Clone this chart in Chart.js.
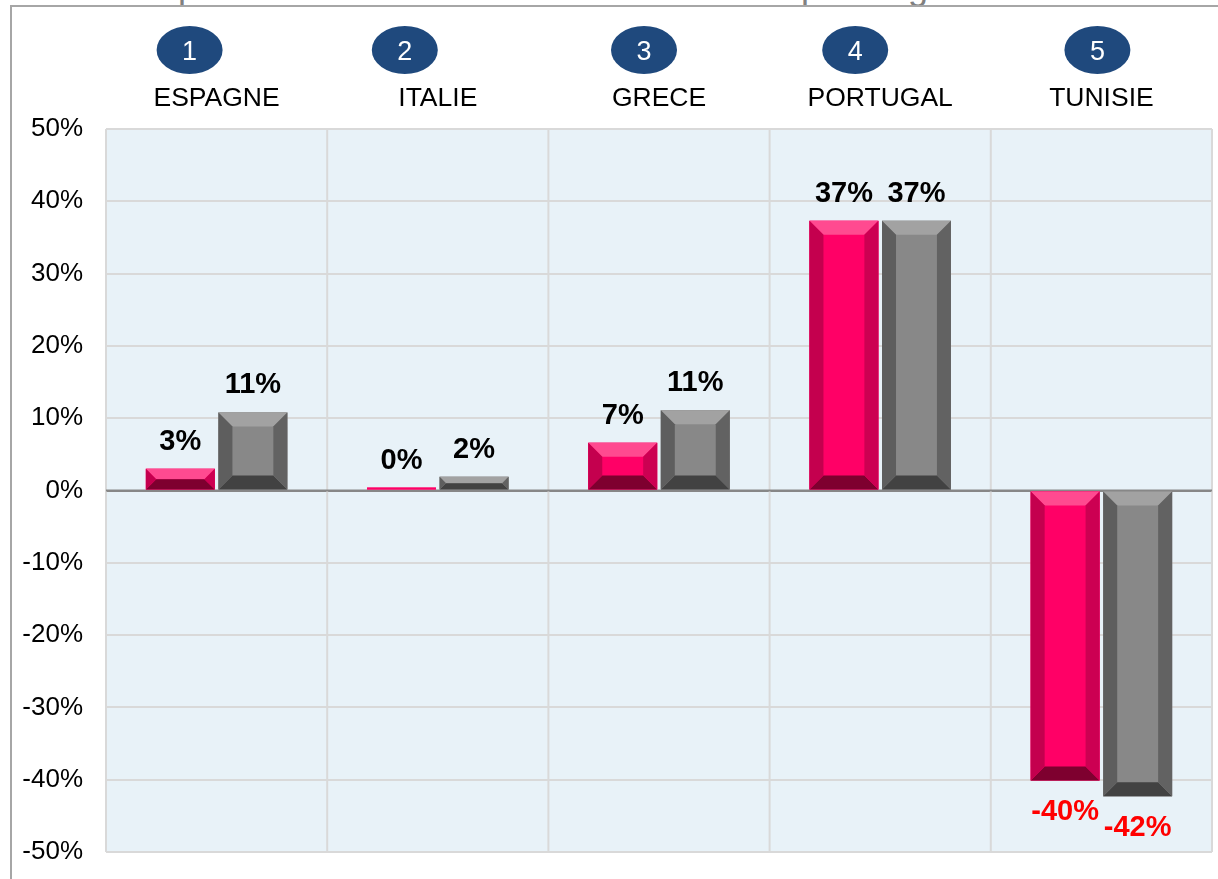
<!DOCTYPE html>
<html>
<head>
<meta charset="utf-8">
<script src="https://cdn.jsdelivr.net/npm/chart.js@4.4.1/dist/chart.umd.min.js"></script>
<style>
  html, body { margin: 0; padding: 0; background: #fff; }
  #wrap { position: relative; width: 1218px; height: 879px; overflow: hidden; }
  #frameTop { position: absolute; left: 11px; top: 5px; width: 1207px; height: 0; border-top: 2px solid #A6A6A6; }
  #frameLeft { position: absolute; left: 10px; top: 5px; width: 0; height: 874px; border-left: 2px solid #A6A6A6; }
  .clip { position: absolute; top: -31px; font-family: "Liberation Sans", Arial, sans-serif; font-size: 36px; color: #808080; line-height: 36px; }
  canvas { position: absolute; left: 0; top: 0; }
</style>
</head>
<body>
<div id="wrap">
  <span class="clip" style="left:178px">p</span>
  <span class="clip" style="left:801px">p</span>
  <span class="clip" style="left:908px">g</span>
  <div id="frameTop"></div>
  <div id="frameLeft"></div>
  <canvas id="c" width="1218" height="879"></canvas>
</div>
<script>
// ---- data ----
const categories = ["ESPAGNE", "ITALIE", "GRECE", "PORTUGAL", "TUNISIE"];
const badgeNumbers = ["1", "2", "3", "4", "5"];
const seriesPink = [3.0, 0.4, 6.6, 37.3, -40.1];
const seriesGrey = [10.8, 1.9, 11.1, 37.3, -42.3];
const yTicks = [50, 40, 30, 20, 10, 0, -10, -20, -30, -40, -50];
// decoration: horizontal offset of the numbered badges from category centres
const badgeOffsets = [-27, -33, -15, -25, -4];

const FONT = '"Liberation Sans", Arial, sans-serif';

const bevelStyles = [
  { face: '#FF0066', top: '#FF4A90', bottom: '#7E002F', left: '#C4004E', right: '#CC0052' },
  { face: '#888888', top: '#A2A2A2', bottom: '#424242', left: '#5E5E5E', right: '#626262' }
];

const bgPlugin = {
  id: 'bg',
  beforeDraw(chart) {
    const { ctx, chartArea: a } = chart;
    ctx.save();
    ctx.fillStyle = '#E8F2F8';
    ctx.fillRect(a.left, a.top, a.right - a.left, a.bottom - a.top);
    ctx.restore();
  },
  beforeDatasetsDraw(chart) {
    const { ctx, chartArea: a } = chart;
    const xs = chart.scales.x;
    const half = (xs.right - xs.left) / categories.length / 2;
    ctx.save();
    ctx.strokeStyle = '#D9D9D9';
    ctx.lineWidth = 2;
    for (let i = 0; i <= categories.length; i++) {
      const x = i < categories.length ? xs.getPixelForValue(i) - half : xs.getPixelForValue(i - 1) + half;
      ctx.beginPath();
      ctx.moveTo(x, a.top);
      ctx.lineTo(x, a.bottom);
      ctx.stroke();
    }
    const y0 = chart.scales.y.getPixelForValue(0);
    ctx.strokeStyle = '#878787';
    ctx.beginPath();
    ctx.moveTo(a.left, y0);
    ctx.lineTo(a.right, y0);
    ctx.stroke();
    ctx.restore();
  }
};

const bevelPlugin = {
  id: 'bevel',
  afterDatasetsDraw(chart) {
    const ctx = chart.ctx;
    chart.data.datasets.forEach((ds, di) => {
      const st = bevelStyles[di];
      chart.getDatasetMeta(di).data.forEach((el) => {
        const p = el.getProps(['x', 'y', 'base', 'width'], true);
        const l = p.x - p.width / 2, r = p.x + p.width / 2;
        const t = Math.min(p.y, p.base), bt = Math.max(p.y, p.base);
        const h = bt - t, w = r - l;
        if (h < 4) {
          ctx.fillStyle = st.face; ctx.fillRect(l, t, w, h); return;
        }
        const b = Math.min(14, w / 2, h / 2);
        const poly = (pts, col) => {
          ctx.beginPath();
          ctx.moveTo(pts[0][0], pts[0][1]);
          for (let i = 1; i < pts.length; i++) ctx.lineTo(pts[i][0], pts[i][1]);
          ctx.closePath(); ctx.fillStyle = col; ctx.fill();
        };
        ctx.save();
        ctx.fillStyle = st.face; ctx.fillRect(l, t, w, h);
        poly([[l, t], [r, t], [r - b, t + b], [l + b, t + b]], st.top);
        poly([[l, bt], [r, bt], [r - b, bt - b], [l + b, bt - b]], st.bottom);
        poly([[l, t], [l + b, t + b], [l + b, bt - b], [l, bt]], st.left);
        poly([[r, t], [r - b, t + b], [r - b, bt - b], [r, bt]], st.right);
        ctx.restore();
      });
    });
  }
};

const labelPlugin = {
  id: 'vlabels',
  afterDatasetsDraw(chart) {
    const ctx = chart.ctx;
    ctx.save();
    ctx.font = 'bold 29px ' + FONT;
    ctx.textAlign = 'center';
    ctx.textBaseline = 'middle';
    chart.data.datasets.forEach((ds, di) => {
      chart.getDatasetMeta(di).data.forEach((el, i) => {
        const v = ds.data[i];
        const p = el.getProps(['x', 'y', 'base'], true);
        const txt = Math.round(v) + '%';
        if (v >= 0) {
          ctx.fillStyle = '#000000';
          ctx.fillText(txt, p.x, p.y - 27);
        } else {
          ctx.fillStyle = '#FF0000';
          ctx.fillText(txt, p.x, p.y + 32);
        }
      });
    });
    ctx.restore();
  }
};

const headerPlugin = {
  id: 'header',
  afterDraw(chart) {
    const ctx = chart.ctx;
    const xs = chart.scales.x;
    ctx.save();
    categories.forEach((name, i) => {
      const cx = xs.getPixelForValue(i);
      const bx = cx + badgeOffsets[i];
      ctx.beginPath();
      ctx.ellipse(bx, 50, 33, 24, 0, 0, Math.PI * 2);
      ctx.fillStyle = '#1F497D';
      ctx.fill();
      ctx.fillStyle = '#FFFFFF';
      ctx.font = '27px "Liberation Sans Narrow", ' + FONT;
      ctx.textAlign = 'center';
      ctx.textBaseline = 'alphabetic';
      ctx.fillText(badgeNumbers[i], bx, 60);
      ctx.fillStyle = '#000000';
      ctx.font = '26.5px ' + FONT;
      ctx.fillText(name, cx, 106);
    });
    ctx.restore();
  }
};

new Chart(document.getElementById('c'), {
  type: 'bar',
  data: {
    labels: categories,
    datasets: [
      { label: 'A', data: seriesPink, backgroundColor: '#FF0066', borderWidth: 0 },
      { label: 'B', data: seriesGrey, backgroundColor: '#888888', borderWidth: 0 }
    ]
  },
  options: {
    responsive: false,
    animation: false,
    devicePixelRatio: 1,
    categoryPercentage: 0.656,
    barPercentage: 0.95,
    layout: { padding: { left: 0, top: 129, right: 6, bottom: 27 } },
    plugins: { legend: { display: false }, tooltip: { enabled: false } },
    scales: {
      x: {
        display: false,
        offset: true
      },
      y: {
        min: -50, max: 50,
        afterFit(s) { s.width = 106; },
        afterBuildTicks(s) { s.ticks = yTicks.map(v => ({ value: v })); },
        ticks: {
          callback: v => v + '%',
          color: '#000000',
          font: { family: FONT, size: 26 },
          padding: 0
        },
        grid: {
          drawTicks: true,
          tickLength: 23,
          tickColor: 'rgba(0,0,0,0)',
          lineWidth: 2,
          color: ctx => (ctx.tick && ctx.tick.value === 0) ? '#878787' : '#D9D9D9'
        },
        border: { display: false }
      }
    }
  },
  plugins: [bgPlugin, bevelPlugin, labelPlugin, headerPlugin]
});
</script>
</body>
</html>
